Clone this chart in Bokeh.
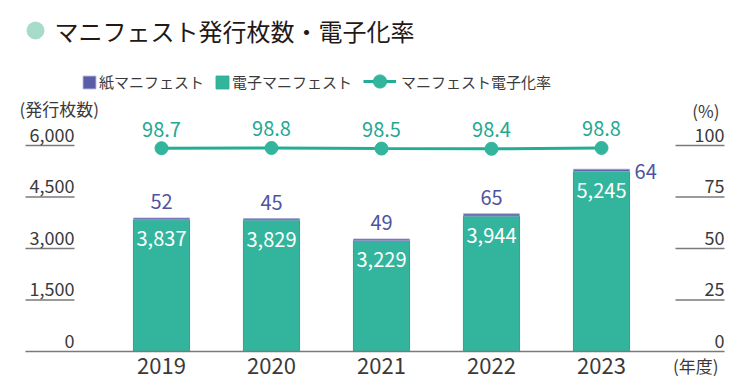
from bokeh.plotting import figure
from bokeh.models import Range1d, ColumnDataSource, Legend, LegendItem
from bokeh.core.properties import value
from bokeh.embed import file_html
from bokeh.resources import INLINE

# ---- data ----
years = ["2019", "2020", "2021", "2022", "2023"]
electronic = [3837, 3829, 3229, 3944, 5245]
paper = [52, 45, 49, 65, 64]
rate = [98.7, 98.8, 98.5, 98.4, 98.8]
left_ticks = [0, 1500, 3000, 4500, 6000]
right_ticks = [0, 25, 50, 75, 100]
title_text = "マニフェスト発行枚数・電子化率"
left_unit = "(発行枚数)"
right_unit = "(%)"
x_unit = "(年度)"
paper_name = "紙マニフェスト"
elec_name = "電子マニフェスト"
rate_name = "マニフェスト電子化率"

# ---- layout helpers ----
FONT = "Noto Sans CJK JP"
W, H = 750, 390
PXC = 110.0                 # pixels per category
X0 = -161.0 / PXC
PXV = 206.0 / 6000.0        # pixels per sheet
PCT = 60.0                  # sheets per percent (100% == 6000)


def xd(px):
    return X0 + px / PXC


def yd(py):
    return (351 - py) / PXV


p = figure(width=W, height=H, output_backend="svg", toolbar_location=None,
           x_range=Range1d(X0, X0 + W / PXC),
           y_range=Range1d(yd(H), yd(0)),
           x_axis_location=None, y_axis_location=None,
           min_border=0, min_border_left=0, min_border_right=0,
           min_border_top=0, min_border_bottom=0)
p.extra_y_ranges = {"pct": Range1d(yd(H) / PCT, yd(0) / PCT)}
p.outline_line_color = None
p.grid.visible = False
p.background_fill_color = "white"
p.border_fill_color = "white"

idx = list(range(len(years)))
totals = [e + q for e, q in zip(electronic, paper)]
src = ColumnDataSource(dict(
    x=idx, year=years, elec=electronic, paper=paper, total=totals, rate=rate,
    elec_lbl=[f"{v:,}" for v in electronic],
    rate_lbl=[f"{v:.1f}" for v in rate],
))

AX = "#3a3a3a"
TEAL = "#33b59d"
PURPLE = "#5b5ea6"
TICK = "#7a7a7a"

# ---- axis tick lines ----
p.segment(x0=xd(25), x1=xd(74), y0=left_ticks[1:], y1=left_ticks[1:],
          line_color=TICK, line_width=1.5)
p.segment(x0=xd(675), x1=xd(724), y0=[t * PCT for t in right_ticks[1:]],
          y1=[t * PCT for t in right_ticks[1:]], line_color=TICK, line_width=1.5)

# ---- bars ----
elec_r = p.vbar(x="x", bottom=0, top="elec", width=0.51, source=src,
                fill_color=TEAL, line_color="#22ab8f", line_width=1)
paper_r = p.vbar(x="x", bottom="elec", top="total", width=0.51, source=src,
                 fill_color=PURPLE, line_color="#a9a6d6", line_width=0.8)

# baseline
p.segment(x0=xd(25), x1=xd(724), y0=[0], y1=[0], line_color=TICK, line_width=1.5)

# ---- bar labels ----
p.text(x="x", y="elec", text="elec_lbl", source=src, y_offset=19,
       text_align="center", text_baseline="middle", text_color="white",
       text_font=value(FONT), text_font_size="20px")
n = len(years)
sub = ColumnDataSource(dict(x=idx[:n - 1], total=totals[:n - 1],
                            lbl=[str(v) for v in paper[:n - 1]]))
p.text(x="x", y="total", text="lbl", source=sub, y_offset=-16,
       text_align="center", text_baseline="middle", text_color="#4f54a2",
       text_font=value(FONT), text_font_size="20px")
p.text(x=[idx[-1] + 0.255], y=[totals[-1]], text=[str(paper[-1])], x_offset=5, y_offset=2,
       text_align="left", text_baseline="middle", text_color="#4f54a2",
       text_font=value(FONT), text_font_size="20px")

# ---- rate line ----
line_r = p.line(x="x", y="rate", source=src, y_range_name="pct",
                line_color="#22ae95", line_width=3)
dot_r = p.scatter(x="x", y="rate", source=src, y_range_name="pct", size=13,
                  fill_color=TEAL, line_color=TEAL)
p.text(x="x", y="rate", text="rate_lbl", source=src, y_range_name="pct", y_offset=-19,
       text_align="center", text_baseline="middle", text_color="#24a88f",
       text_font=value(FONT), text_font_size="20px")

# ---- axis labels ----
p.text(x=xd(74), y=left_ticks, text=[f"{t:,}" for t in left_ticks], y_offset=-11,
       text_align="right", text_baseline="middle", text_color=AX,
       text_font=value(FONT), text_font_size="18px")
p.text(x=xd(724), y=[t * PCT for t in right_ticks], text=[str(t) for t in right_ticks],
       y_offset=-11, text_align="right", text_baseline="middle", text_color=AX,
       text_font=value(FONT), text_font_size="18px")
p.text(x="x", y=0, text="year", source=src, y_offset=14,
       text_align="center", text_baseline="middle", text_color=AX,
       text_font=value(FONT), text_font_size="22px")
p.text(x=[xd(19)], y=[yd(108)], text=[left_unit], text_align="left",
       text_baseline="middle", text_color=AX,
       text_font=value(FONT), text_font_size="17px")
p.text(x=[xd(719)], y=[yd(110)], text=[right_unit], text_align="right",
       text_baseline="middle", text_color=AX,
       text_font=value(FONT), text_font_size="17px")
p.text(x=[xd(718)], y=[yd(365)], text=[x_unit], text_align="right",
       text_baseline="middle", text_color=AX,
       text_font=value(FONT), text_font_size="17px")

# ---- title ----
p.scatter(x=[xd(35)], y=[yd(30)], size=18, fill_color="#a7dccb", line_color=None)
p.text(x=[xd(54)], y=[yd(30)], text=[title_text], text_align="left",
       text_baseline="middle", text_color="#231815",
       text_font=value(FONT), text_font_size="24px")

# ---- legends ----
leg1 = Legend(items=[LegendItem(label=paper_name, renderers=[paper_r]),
                     LegendItem(label=elec_name, renderers=[elec_r])],
              orientation="horizontal", location=(81, H - 92),
              glyph_width=16, glyph_height=16, label_standoff=2, spacing=10,
              padding=0, margin=0, border_line_alpha=0, background_fill_alpha=0,
              label_text_font=FONT, label_text_font_size="15px",
              label_text_color=AX, label_height=20)
leg2 = Legend(items=[LegendItem(label=rate_name, renderers=[line_r, dot_r])],
              orientation="horizontal", location=(363, H - 98),
              glyph_width=33, glyph_height=34, label_standoff=5, spacing=0,
              padding=0, margin=0, border_line_alpha=0, background_fill_alpha=0,
              label_text_font=FONT, label_text_font_size="15px",
              label_text_color=AX, label_height=20)
p.add_layout(leg1)
p.add_layout(leg2)

open("out.html", "w").write(file_html(p, INLINE))
